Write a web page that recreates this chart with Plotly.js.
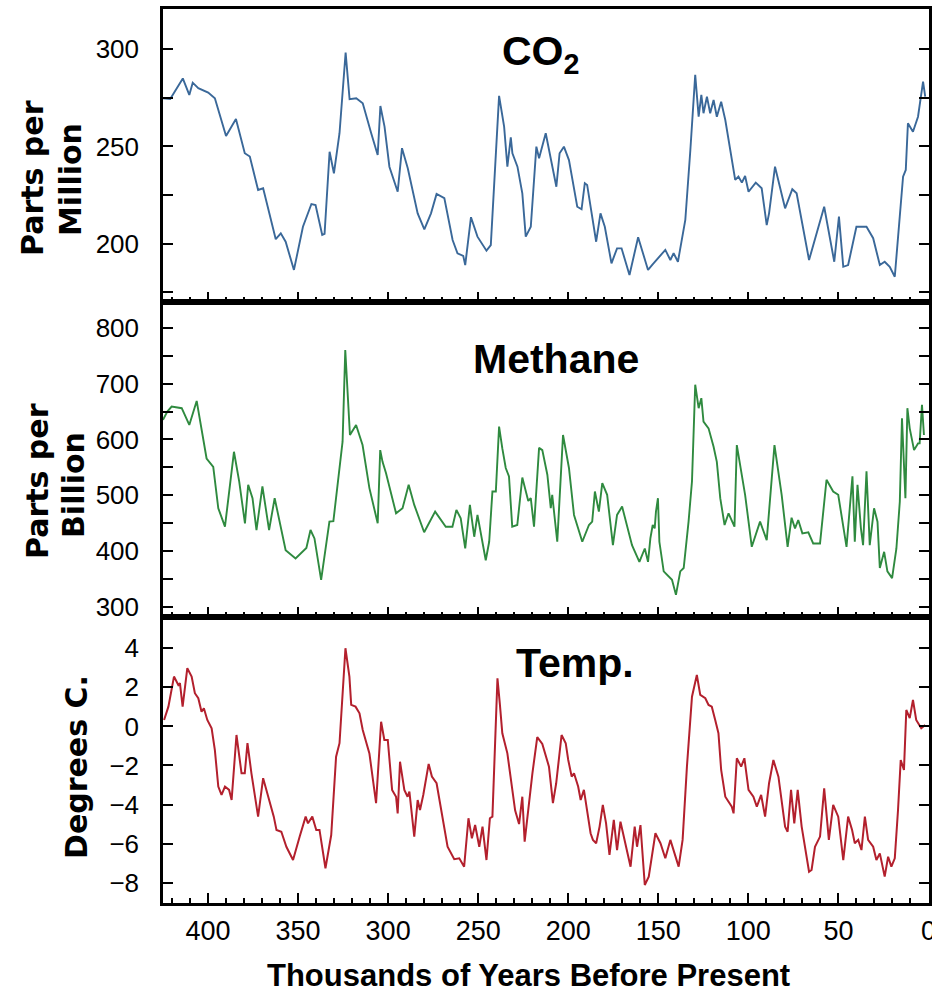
<!DOCTYPE html>
<html><head><meta charset="utf-8">
<script src="https://cdn.plot.ly/plotly-3.0.1.min.js"></script>
<style>html,body{margin:0;padding:0;background:#fff;} #chart{width:932px;height:992px;}</style>
</head><body><div id="chart"></div>
<script>
// ---- data (thousands of years before present) ----
const co2Age = [425,421,414,410.4,408.5,405.4,399.9,396.2,390,384.5,379.6,376.8,372.2,369.4,362.4,359.6,356.9,352.3,347.3,342.6,340.3,336.6,335.3,332.5,330.1,327,323.6,321.4,317.7,314.1,309.4,305.8,304.3,302,299.3,294.7,292.3,289.1,283.6,279.9,276.2,273.1,268.8,264.2,261.5,258.3,257.2,254,250.4,245.4,243,238.4,235.6,233.8,231.9,231,228.2,226.4,225.5,223.6,220.8,217.7,216.2,212.5,206.6,204.8,202.4,199.6,195,192.6,190.8,189.5,184.5,182.1,179.7,176,172.9,170.4,166,161.2,155.7,153.5,146.1,143.3,141.5,139.1,136.9,135,132.2,129.5,127.6,126.1,124.9,123,121.2,119.3,117.5,115.1,112.8,107.3,105.5,103.6,101.8,99.9,95.9,92.6,89.8,88.5,85.2,79.6,75.6,73.2,66.3,57.9,52.3,49.7,47.3,44.6,40,34.4,30.7,27,24.3,21.5,18.7,14.1,12.6,11.4,8.6,5.8,3,1.8];
const co2Ppm = [274.8,274.4,285,276.5,282.8,280,277.7,274.8,255.4,264.1,246.5,244.8,227.6,228.5,202.3,205.3,201,186.5,208.7,220.4,219.9,204.5,205,247.3,236.2,256.8,298.3,274.3,274.8,272.2,256.8,245.6,270.8,260.2,239.6,226.7,249.1,238.8,215.6,207.4,215.6,225.6,223.4,201.9,195,193.7,189,213.6,203.6,196.4,199.3,276,260.2,239.6,254.7,246.5,239.6,231.1,225.9,203.6,208.7,249.9,243.9,256.8,229.3,246.5,249.9,243,219,217.7,231.1,230.2,201,215.6,208.7,189.9,197.6,197.6,183.9,203.3,186.5,189,196.8,191.6,195.1,190.7,201.9,212.2,248.2,286.8,265.3,276.5,267.1,275.6,267.1,273.9,265.3,273,263.6,232.8,234.5,231.4,234.8,226.7,231.4,228.5,209.6,215.6,239.6,218.2,228,225.9,191.6,219,190.7,213.9,188.1,189,208.7,208.7,202.8,189,190.7,188.1,183,234.5,237.9,261.9,257.6,265.3,283.3,275.6];

const ch4Age = [425,422.6,420.2,414.6,410.4,406.3,400.8,397.1,394.3,390.6,385.6,382.7,379.5,377.7,375.3,373.1,369.8,366.1,363,360.2,356.9,351.4,345.4,343.1,340.9,337.2,332.6,330.4,326.1,325.3,323.8,322.5,321.2,317.8,314.2,310.4,305.8,304.4,303.1,301.2,295.6,292,288.6,285.5,280,273.9,268,264.3,262.1,259.7,257.2,254.6,252.2,250.4,245.8,243.9,242.1,240.2,238.4,236.6,234.7,232.9,231.1,228.3,225.5,222.2,220.8,219,216.2,214.4,212.9,211.6,209.7,208.9,206.1,202.9,199.6,196.8,192.2,188.5,186.7,185.2,183,181.1,178.4,175.2,172.9,170.1,164.6,160.5,157.5,155.7,154.4,153.1,152,151.3,150.2,149.4,147,142.4,140.2,137.8,135.9,133.2,131.3,129.5,127.6,126.1,124.9,122.1,119.3,117.5,115.6,113.2,111,107.7,106.4,104,101.8,98.1,93.5,89.8,85.5,81.5,78.2,76,74.1,72.3,70,66.7,64,60.2,56.6,52.9,50.1,45.5,42.2,40.9,39.4,37.5,36.3,34.4,32.6,30.2,28.3,27,24.6,22.8,20.2,17.8,15.9,14.7,13.6,12.8,11.7,10.4,8,5.8,4.9,3.6,2.5];
const ch4Ppb = [635,650,659,656,626,669,566,551,477,444,578,525,450,519,495,438,516,438,495,453,402,387,406,438,423,349,453,454,584,596,760,680,608,626,590,513,450,581,560,540,468,477,519,483,434,471,444,444,474,459,405,483,426,465,384,417,507,507,623,584,549,534,444,447,532,490,495,444,585,581,560,537,477,501,417,608,549,465,417,447,453,507,471,522,501,411,465,480,411,381,405,381,423,447,441,471,495,417,364,349,322,364,370,453,525,698,656,674,632,620,587,560,495,447,468,444,590,543,501,408,453,420,590,501,408,460,441,456,432,434,414,414,528,507,501,408,534,417,519,441,411,543,411,477,453,370,399,364,352,405,489,638,560,495,656,620,581,593,593,662,608];

const tempAge = [424.4,422,418.9,416.5,415.6,414.1,411.5,409.1,407.3,405.4,403.6,402.3,400.4,398,396.2,394.3,392.5,390.6,388.3,386.9,384.2,381.4,379.6,378.1,375.9,372.2,369.4,367.2,364.8,363.5,362,359.3,356.5,352.8,349.1,345.8,344.5,342.1,339.9,338.1,334.8,331.6,328.9,327,323.7,321.5,320.5,318.1,315.9,314.1,310.4,306.7,303.9,302.1,300.2,297.8,295.6,294.7,293.4,291,289.2,288.2,285.5,283.6,282.3,280.5,277.5,275.7,273.1,269.8,267,263.3,260.5,257.8,255.4,253.5,251.7,249.4,247.6,245.4,243.5,242.1,239.3,238,236.6,233.8,231.9,229.5,227.3,225.5,224.2,222.7,219.9,217.2,214.4,210.7,208.5,206.7,203.7,201.4,200,198.1,196.8,194.5,193.1,191.3,190.4,187.6,186.3,184.5,182.6,180.8,179,177.1,174.7,172.9,171,168.2,165.4,163.1,161.8,159.9,157.5,155.3,153.5,151.6,148.8,146.1,143.3,141.5,138.7,136.5,134.1,131.3,128.6,126.7,123.9,122.1,120.3,118.4,116.6,115.1,112.8,109.2,108.2,106.4,104,102.2,99.9,97.2,95.3,92.9,90.7,88.5,86.1,83.3,79.6,78.2,76.3,74.5,72.6,70.4,66.3,64.9,63,60.2,57.9,55.3,52.9,50.1,47.3,44.6,42.4,40.9,39,37.2,35.3,33.5,30.7,28.9,27,24.3,22.4,20.6,18.7,16.9,15.4,13.6,12.3,10.4,8.6,6.8,4,1.8];
const tempDeg = [0.33,1.01,2.55,2.12,2.21,1.01,2.98,2.55,1.7,1.44,0.75,0.93,0.33,-0.1,-1.21,-3.08,-3.51,-3.08,-3.25,-3.77,-0.44,-2.4,-2.4,-0.86,-2.4,-4.62,-2.65,-3.42,-4.28,-4.62,-5.3,-5.39,-6.16,-6.84,-5.64,-4.62,-4.96,-4.62,-5.3,-5.3,-7.26,-5.56,-1.55,-0.86,4.0,2.55,1.1,1.01,0.67,-0.18,-1.38,-3.93,0.24,-0.69,-0.69,-3.25,-3.6,-4.45,-1.81,-3.25,-3.6,-3.34,-5.64,-3.77,-4.28,-3.51,-1.92,-2.57,-2.91,-4.62,-6.16,-6.8,-6.75,-7.18,-4.7,-5.73,-5.05,-6.16,-5.13,-6.84,-4.7,-4.62,2.46,1.18,-0.35,-1.38,-2.57,-4.3,-5.0,-3.6,-5.9,-4.6,-2.4,-0.55,-0.9,-2.06,-3.93,-2.91,-0.44,-0.86,-1.72,-2.57,-2.4,-3.08,-3.77,-3.25,-3.77,-5.47,-5.81,-5.98,-5.13,-4.02,-4.96,-6.58,-4.79,-6.33,-4.88,-5.98,-7.18,-5.13,-6.16,-5.05,-8.12,-7.69,-6.67,-5.47,-5.98,-6.75,-5.81,-6.33,-7.18,-5.81,-2.06,1.52,2.63,1.61,1.44,1.1,1.01,0.33,-0.35,-2.23,-3.6,-4.11,-4.45,-1.63,-2.06,-1.63,-3.25,-3.6,-4.11,-3.51,-4.62,-2.91,-1.72,-2.57,-5.13,-5.39,-3.25,-4.96,-3.25,-5.13,-7.44,-7.35,-6.16,-5.64,-3.17,-5.81,-4.02,-4.62,-6.84,-4.62,-5.3,-5.98,-5.81,-6.33,-4.62,-5.81,-6.16,-6.84,-6.5,-7.69,-6.67,-7.18,-6.75,-4.28,-1.72,-2.23,0.84,0.42,1.35,0.33,-0.1,0.07];

const panelLabels = ['CO<sub>2</sub>', 'Methane', 'Temp.'];
const yTitleLines = [['Parts per', 'Million'], ['Parts per', 'Billion'], ['Degrees C.']];
const xTitle = 'Thousands of Years Before Present';
const xTickVals = [400, 350, 300, 250, 200, 150, 100, 50, 0];

// ---- layout geometry (pixels) ----
const L = 163, R = 929, T = 9, B = 903;
const px2x = px => (px - L) / (R - L);
const py2y = py => (B - py) / (B - T);
const SANS = 'Liberation Sans, Arial, Helvetica, sans-serif';
const WIDE = 'DejaVu Sans, Verdana, sans-serif';

function xAxis(extra) {
  return Object.assign({
    range: [425, -0.3], showline: true, linecolor: '#000', linewidth: 2.5, mirror: true,
    ticks: 'inside', ticklen: 10, tickwidth: 2, tickcolor: '#000', tick0: 0, dtick: 50,
    minor: {ticks: 'inside', dtick: 10, ticklen: 5, tickwidth: 1.5, tickcolor: '#000'},
    showgrid: false, zeroline: false, showticklabels: false
  }, extra);
}
function yAxis(range, dtick, minorDtick, domain) {
  const a = {
    range: range, domain: domain, showline: true, linecolor: '#000', linewidth: 2.5, mirror: 'ticks',
    ticks: 'inside', ticklen: 10, tickwidth: 2, tickcolor: '#000', tick0: 0, dtick: dtick,
    showgrid: false, zeroline: false, ticklabelstandoff: 16,
    tickfont: {family: SANS, size: 26, color: '#000'}
  };
  if (minorDtick) a.minor = {ticks: 'inside', dtick: minorDtick, ticklen: 10, tickwidth: 2, tickcolor: '#000'};
  return a;
}

const dTop = [py2y(302), 1], dMid = [py2y(617), py2y(302)], dBot = [0, py2y(617)];

const traces = [
  {x: co2Age, y: co2Ppm, xaxis: 'x', yaxis: 'y', type: 'scatter', mode: 'lines',
   line: {color: '#3a6899', width: 1.9}, hoverinfo: 'skip'},
  {x: ch4Age, y: ch4Ppb, xaxis: 'x2', yaxis: 'y2', type: 'scatter', mode: 'lines',
   line: {color: '#2f8a3f', width: 1.9}, hoverinfo: 'skip'},
  {x: tempAge, y: tempDeg, xaxis: 'x3', yaxis: 'y3', type: 'scatter', mode: 'lines',
   line: {color: '#b3202d', width: 2}, hoverinfo: 'skip'}
];

const annotations = [];
const labelPos = [[540, 54], [556, 359], [575, 663]];
panelLabels.forEach((t, i) => annotations.push({
  xref: 'paper', yref: 'paper', x: px2x(labelPos[i][0]), y: py2y(labelPos[i][1]),
  text: '<b>' + t + '</b>', showarrow: false, xanchor: 'center', yanchor: 'middle',
  font: {family: SANS, size: 41, color: '#000'}
}));
const yTitlePos = [[[33, 178], [70, 180]], [[37, 481], [73, 485]], [[76, 767]]];
yTitleLines.forEach((lines, i) => lines.forEach((t, j) => annotations.push({
  xref: 'paper', yref: 'paper', x: px2x(yTitlePos[i][j][0]), y: py2y(yTitlePos[i][j][1]),
  text: '<b>' + t + '</b>', showarrow: false, xanchor: 'center', yanchor: 'middle', textangle: -90,
  font: {family: WIDE, size: 30, color: '#000'}
})));
annotations.push({
  xref: 'paper', yref: 'paper', x: px2x(528), y: py2y(976),
  text: '<b>' + xTitle + '</b>', showarrow: false, xanchor: 'center', yanchor: 'middle',
  font: {family: SANS, size: 31, color: '#000'}
});

const layout = {
  width: 932, height: 992,
  margin: {l: L, r: 932 - R, t: T, b: 992 - B, pad: 0},
  paper_bgcolor: '#fff', plot_bgcolor: '#fff', showlegend: false,
  xaxis: xAxis({anchor: 'y'}),
  xaxis2: xAxis({anchor: 'y2', matches: 'x'}),
  xaxis3: xAxis({anchor: 'y3', matches: 'x', showticklabels: true,
    tickmode: 'array', tickvals: xTickVals, ticklabelstandoff: 2, ticklabeloverflow: 'allow',
    tickfont: {family: SANS, size: 27, color: '#000'}}),
  yaxis: yAxis([170, 320.7], 50, 25, dTop),
  yaxis2: yAxis([282.4, 846], 100, 50, dMid),
  yaxis3: yAxis([-9.04, 5.6], 2, null, dBot),
  annotations: annotations
};

Plotly.newPlot('chart', traces, layout, {displayModeBar: false});
</script>
</body></html>
